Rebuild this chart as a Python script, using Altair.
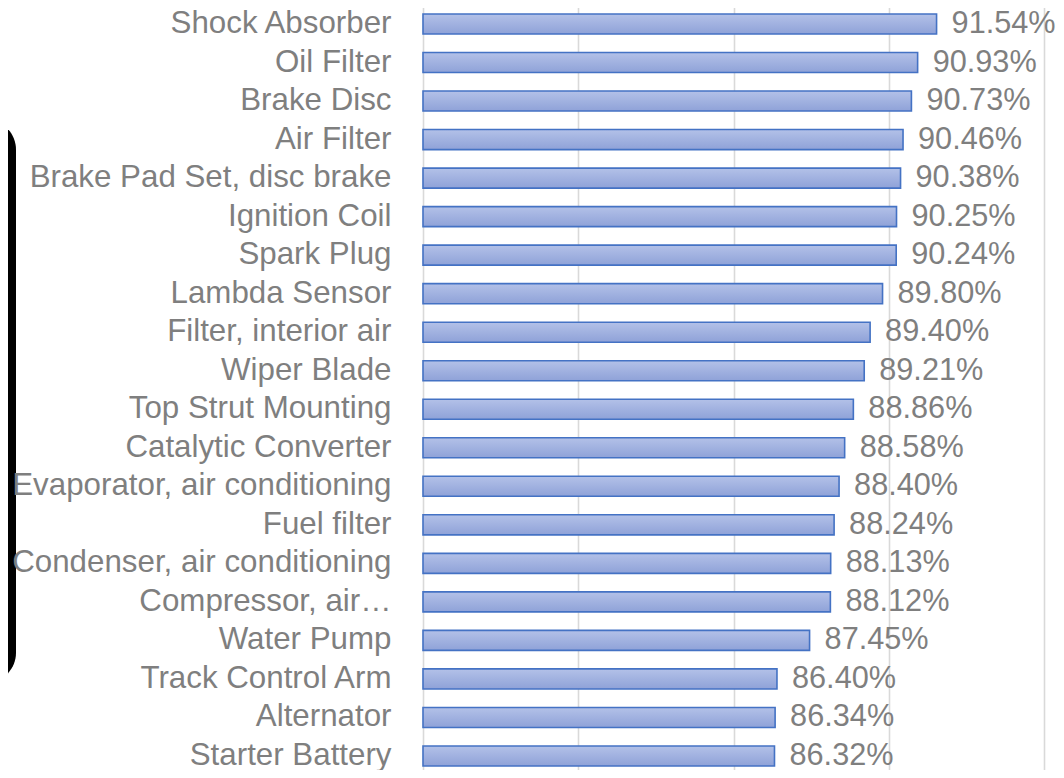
import altair as alt
import pandas as pd

categories = [
    "Shock Absorber", "Oil Filter", "Brake Disc", "Air Filter",
    "Brake Pad Set, disc brake", "Ignition Coil", "Spark Plug", "Lambda Sensor",
    "Filter, interior air", "Wiper Blade", "Top Strut Mounting", "Catalytic Converter",
    "Evaporator, air conditioning", "Fuel filter", "Condenser, air conditioning",
    "Compressor, air\u2026", "Water Pump", "Track Control Arm", "Alternator", "Starter Battery",
]
values = [
    0.9154, 0.9093, 0.9073, 0.9046, 0.9038, 0.9025, 0.9024, 0.8980, 0.8940, 0.8921,
    0.8886, 0.8858, 0.8840, 0.8824, 0.8813, 0.8812, 0.8745, 0.8640, 0.8634, 0.8632,
]
x_ticks = [0.75, 0.80, 0.85, 0.90, 0.95]
XMIN, XMAX = 0.75, 0.95

df = pd.DataFrame({"category": categories, "value": values})

FONT = "Liberation Sans, Arial, sans-serif"
GRAY = "#7f7f7f"

x_scale = alt.Scale(domain=[XMIN, XMAX], nice=False, zero=False)
y_enc = alt.Y(
    "category:N", sort=categories, title=None,
    scale=alt.Scale(paddingInner=0.48, paddingOuter=0.24),
    axis=alt.Axis(labelFont=FONT, labelFontSize=31.3, labelColor=GRAY, labelPadding=32,
                  ticks=False, domain=False, labelLimit=800, zindex=1),
)

# decorative dark shape at the left edge of the reference picture
shape = alt.Chart(pd.DataFrame({"k": [0]})).mark_rect(
    color="black", cornerRadius=30
).encode(
    x=alt.value(-490), x2=alt.value(-407), y=alt.value(115), y2=alt.value(678)
)

bars = alt.Chart(df).mark_bar(
    fill=alt.Gradient(
        gradient="linear",
        stops=[alt.GradientStop(color="#b3c1e8", offset=0),
               alt.GradientStop(color="#8fa2d8", offset=1)],
        x1=0, x2=0, y1=0, y2=1,
    ),
    stroke="#4472c4", strokeWidth=1.6,
).encode(
    x=alt.X("value:Q", scale=x_scale, title=None,
            axis=alt.Axis(values=x_ticks, labels=False, ticks=False, domain=False,
                          grid=True, gridColor="#d9d9d9", gridWidth=1.6)),
    x2=alt.datum(XMIN),
    y=y_enc,
)

labels = alt.Chart(df).mark_text(
    align="left", baseline="middle", dx=15, font=FONT, fontSize=30.7, color=GRAY
).encode(
    x=alt.X("value:Q", scale=x_scale),
    y=alt.Y("category:N", sort=categories),
    text=alt.Text("value:Q", format=".2%"),
)

chart = alt.layer(shape, bars, labels).properties(
    width=621, height=770.5,
    autosize=alt.AutoSizeParams(type="none"),
    padding={"left": 415, "top": -3.26, "right": 12, "bottom": -5.24},
    background="white",
).configure_view(stroke=None)

chart.save("out.html", embed_options={"renderer": "svg", "actions": False})
